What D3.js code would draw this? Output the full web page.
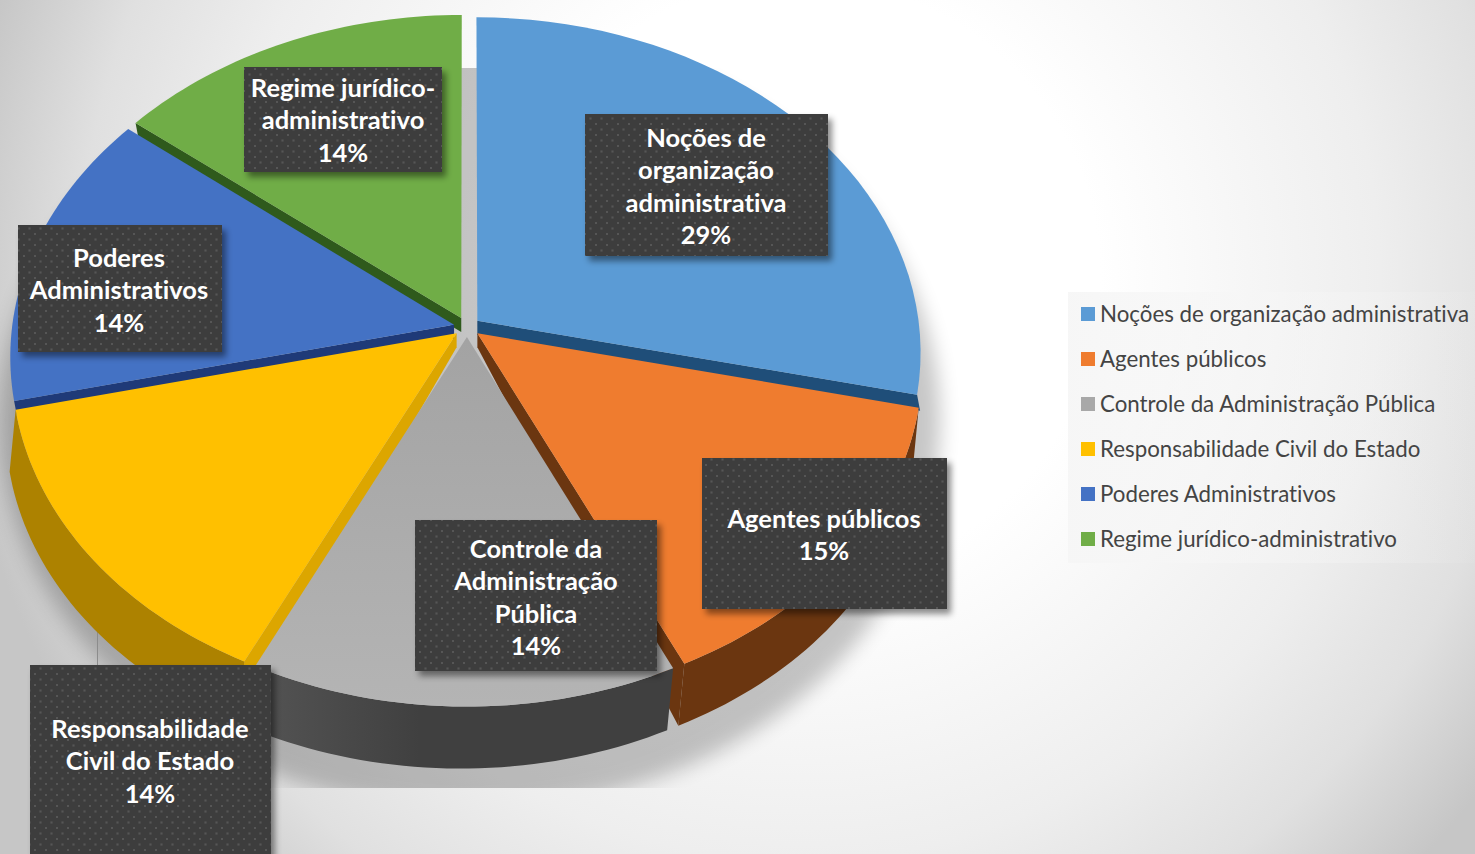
<!DOCTYPE html>
<html>
<head>
<meta charset="utf-8">
<script src="https://cdn.jsdelivr.net/npm/d3@7"></script>
<style>
  html, body { margin: 0; padding: 0; overflow: hidden; background: #fff; }
  svg { display: block; }
  text { font-variant-ligatures: none; }
</style>
</head>
<body>
<svg id="chart" width="1475" height="854"></svg>
<script>
const width = 1475;
const height = 854;

// chart data
const categories = [
  "Noções de organização administrativa",
  "Agentes públicos",
  "Controle da Administração Pública",
  "Responsabilidade Civil do Estado",
  "Poderes Administrativos",
  "Regime jurídico-administrativo",
];
const shares = [28.5, 14.5, 14.2, 14.2, 14.3, 14.3];
const labelLines = [
  ["Noções de", "organização", "administrativa"],
  ["Agentes públicos"],
  ["Controle da", "Administração", "Pública"],
  ["Responsabilidade", "Civil do Estado"],
  ["Poderes", "Administrativos"],
  ["Regime jurídico-", "administrativo"],
];

// styling, same order as categories
const topColors = ["#5b9bd5", "#ef7c2f", "#a8a8a8", "#ffc000", "#4472c4", "#70ad47"];
const edgeColors = ["#1f4e79", "#6b3610", "#6b6b6b", "#dca600", "#1f3a78", "#2f5a1c"];
const sideColors = ["#2f6493", "#6b3610", "url(#graySide)", "#ad8200", "#2b4a85", "#44702a"];

// label boxes, placed by hand like the original
const labelBoxes = [
  { x: 585, y: 114, w: 243, h: 142, cx: 706, first: 147 },
  { x: 702, y: 458, w: 245, h: 151, cx: 824, first: 528 },
  { x: 415, y: 520, w: 242, h: 151, cx: 536, first: 558 },
  { x: 30, y: 665, w: 241, h: 200, cx: 150, first: 738 },
  { x: 18, y: 225, w: 204, h: 127, cx: 119, first: 267 },
  { x: 244, y: 67, w: 198, h: 105, cx: 343, first: 97 },
];

const svg = d3.select("#chart");
const defs = svg.append("defs");

// background
const bg = defs.append("radialGradient")
  .attr("id", "bg")
  .attr("gradientUnits", "userSpaceOnUse")
  .attr("cx", 800).attr("cy", 280).attr("r", 1000);
bg.append("stop").attr("offset", "0%").attr("stop-color", "#ffffff");
bg.append("stop").attr("offset", "30%").attr("stop-color", "#ffffff");
bg.append("stop").attr("offset", "58%").attr("stop-color", "#eeeeee");
bg.append("stop").attr("offset", "72%").attr("stop-color", "#e0e0e0");
bg.append("stop").attr("offset", "85%").attr("stop-color", "#c6c6c6");
svg.append("rect").attr("width", width).attr("height", height).attr("fill", "url(#bg)");

const blur = defs.append("filter").attr("id", "soft")
  .attr("x", "-20%").attr("y", "-20%").attr("width", "140%").attr("height", "140%");
blur.append("feGaussianBlur").attr("stdDeviation", 10);

const boxShadow = defs.append("filter").attr("id", "boxShadow")
  .attr("x", "-10%").attr("y", "-10%").attr("width", "125%").attr("height", "125%");
boxShadow.append("feDropShadow")
  .attr("dx", 4).attr("dy", 5).attr("stdDeviation", 3)
  .attr("flood-color", "#000").attr("flood-opacity", 0.45);

const dots = defs.append("pattern").attr("id", "dots")
  .attr("patternUnits", "userSpaceOnUse")
  .attr("width", 11).attr("height", 11);
dots.append("rect").attr("width", 11).attr("height", 11).attr("fill", "#3e3e3e");
[[1, 2], [6.5, 7.5]].forEach(([x, y]) => {
  dots.append("rect").attr("x", x).attr("y", y).attr("width", 2).attr("height", 2)
    .attr("fill", "#575757");
});

const legendFill = defs.append("linearGradient").attr("id", "legendFill");
legendFill.append("stop").attr("offset", "0%").attr("stop-color", "#f6f6f6").attr("stop-opacity", 0.95);
legendFill.append("stop").attr("offset", "100%").attr("stop-color", "#f6f6f6").attr("stop-opacity", 0.05);

const graySide = defs.append("linearGradient").attr("id", "graySide")
  .attr("gradientUnits", "userSpaceOnUse")
  .attr("x1", 270).attr("x2", 420).attr("y1", 0).attr("y2", 0);
graySide.append("stop").attr("offset", "0%").attr("stop-color", "#525252");
graySide.append("stop").attr("offset", "100%").attr("stop-color", "#404040");

const grayTop = defs.append("linearGradient").attr("id", "grayTop")
  .attr("gradientUnits", "userSpaceOnUse")
  .attr("x1", 0).attr("x2", 0).attr("y1", 340).attr("y2", 705);
grayTop.append("stop").attr("offset", "0%").attr("stop-color", "#a3a3a3");
grayTop.append("stop").attr("offset", "100%").attr("stop-color", "#b4b4b4");

// tilted disc with a little perspective
const cx = 467;
const cy = 327;
const rx = 442;
const ry = 333;
const persp = 0.0936;
const explode = 0.03;
const depth = 62;
const lowShift = -6;

function project(u, v, low) {
  const k = 1 / (1 - persp * v);
  return [cx + rx * u * k + (low ? lowShift : 0), cy + ry * v * k + (low ? depth : 0)];
}

const pieData = d3.pie().sort(null).value((d) => d)(shares);
const color = d3.scaleOrdinal().domain(categories).range(topColors);
const line = d3.line();

function rimPoints(d, low) {
  const mid = (d.startAngle + d.endAngle) / 2;
  const ox = Math.sin(mid) * explode;
  const oy = -Math.cos(mid) * explode;
  const steps = d3.range(0, 41).map((i) => d.startAngle + (d.endAngle - d.startAngle) * i / 40);
  return {
    apex: project(ox, oy, low),
    rim: steps.map((a) => project(Math.sin(a) + ox, -Math.cos(a) + oy, low)),
  };
}

// soft shadow, cut off by the plot frame like the original
defs.append("clipPath").attr("id", "frame")
  .append("rect").attr("x", 0).attr("y", 68).attr("width", 1000).attr("height", 720);
svg.append("g").attr("clip-path", "url(#frame)")
  .append("ellipse")
  .attr("cx", 470).attr("cy", 420).attr("rx", 470).attr("ry", 390)
  .attr("fill", "#000").attr("opacity", 0.22)
  .attr("filter", "url(#soft)");

svg.append("line")
  .attr("x1", 97.5).attr("x2", 97.5).attr("y1", 620).attr("y2", 666)
  .attr("stroke", "#8c8c8c").attr("stroke-width", 1);

// painter's order, back slices first
const drawOrder = [5, 0, 4, 1, 3, 2];
const pieG = svg.append("g");
drawOrder.forEach((i) => {
  const d = pieData[i];
  const top = rimPoints(d, false);
  const low = rimPoints(d, true);
  const last = top.rim.length - 1;
  const mid = (d.startAngle + d.endAngle) / 2;
  const front = Math.cos(mid) < 0;
  const g = pieG.append("g");

  // the one cut face that shows, the edge nearest the viewer
  if (i !== 2) {
    const r = i < 2 ? last : 0;
    const rimPt = top.rim[r];
    const lowPt = front ? low.rim[r] : [rimPt[0] + 3, rimPt[1] + 16];
    g.append("path")
      .attr("d", line([top.apex, rimPt, lowPt, [top.apex[0], top.apex[1] + 14]]) + "Z")
      .attr("fill", edgeColors[i]);
  }

  // outer wall, front slices only
  if (front) {
    g.append("path")
      .attr("d", line(top.rim.concat(low.rim.slice().reverse())) + "Z")
      .attr("fill", sideColors[i]);
  }

  // top face
  g.append("path")
    .attr("d", line([top.apex].concat(top.rim)) + "Z")
    .attr("fill", i === 2 ? "url(#grayTop)" : color(categories[i]));
});

// data labels
const labels = svg.append("g")
  .attr("font-family", "Lato, sans-serif")
  .attr("font-weight", 700)
  .attr("font-size", 25.5)
  .attr("fill", "#fff")
  .attr("text-anchor", "middle");
categories.forEach((c, i) => {
  const b = labelBoxes[i];
  labels.append("rect")
    .attr("x", b.x).attr("y", b.y).attr("width", b.w).attr("height", b.h)
    .attr("fill", "url(#dots)")
    .attr("filter", "url(#boxShadow)");
  labelLines[i].concat(Math.round(shares[i]) + "%").forEach((t, j) => {
    labels.append("text")
      .attr("x", b.cx)
      .attr("y", b.first + j * 32.3)
      .text(t);
  });
});

// legend
const legendY = d3.scalePoint().domain(categories).range([314, 539]);
svg.append("rect")
  .attr("x", 1068).attr("y", 292).attr("width", 407).attr("height", 271)
  .attr("fill", "url(#legendFill)");
const legend = svg.append("g");
categories.forEach((c) => {
  legend.append("rect")
    .attr("x", 1081).attr("y", legendY(c) - 7).attr("width", 14).attr("height", 14)
    .attr("fill", color(c));
  legend.append("text")
    .attr("x", 1100).attr("y", legendY(c) + 8)
    .attr("font-family", "Lato, sans-serif")
    .attr("font-size", 22.3)
    .attr("fill", "#444")
    .text(c);
});
</script>
</body>
</html>
